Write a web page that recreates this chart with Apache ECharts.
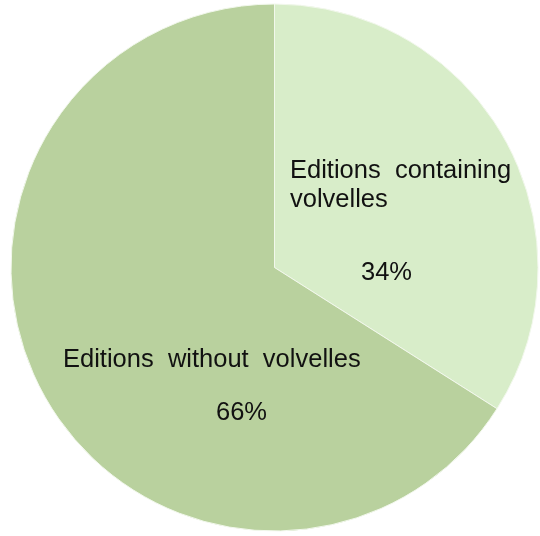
<!DOCTYPE html>
<html>
<head>
<meta charset="utf-8">
<script src="https://cdn.jsdelivr.net/npm/echarts@6/dist/echarts.min.js"></script>
<style>
  html, body { margin: 0; padding: 0; background: #ffffff; }
  #chart { width: 540px; height: 536px; }
</style>
</head>
<body>
<div id="chart"></div>
<script>
// Share of editions with and without volvelles
const categories = ['Editions containing volvelles', 'Editions without volvelles'];
const shares = [34, 66];
const sliceColors = ['#d8edc9', '#b9d19e'];

// Text of each slice label, split over lines (wide word spacing)
const labelLines = [
  ['Editions  containing', 'volvelles'],
  ['Editions  without  volvelles']
];
// Label anchor (top-left) and the indent of the percentage line
const labelAnchors = [[290, 156.5], [63, 345]];
const pctIndent = [71, 153];
const pctLineHeight = [116, 77];

const chart = echarts.init(document.getElementById('chart'), null, { renderer: 'canvas' });

const data = categories.map((name, i) => ({
  name: name,
  value: shares[i],
  itemStyle: { color: sliceColors[i] }
}));

const textStyle = { fontFamily: 'Liberation Sans', fontSize: 25.5, color: '#111111' };

chart.setOption({
  animation: false,
  backgroundColor: '#ffffff',
  series: [{
    type: 'pie',
    center: [274.5, 267.5],
    radius: [0, 263.5],
    startAngle: 90,
    clockwise: true,
    data: data,
    itemStyle: { borderColor: '#f2f8ec', borderWidth: 1 },
    labelLine: { show: false },
    label: {
      show: true,
      position: 'inside',
      formatter: function (p) {
        const lines = labelLines[p.dataIndex].map(t => '{n|' + t + '}');
        return lines.join('\n') + '\n{p' + p.dataIndex + '|' + Math.round(p.percent) + '%}';
      },
      rich: {
        n: Object.assign({ lineHeight: 29 }, textStyle),
        p0: Object.assign({ lineHeight: pctLineHeight[0], padding: [0, 0, 0, pctIndent[0]] }, textStyle),
        p1: Object.assign({ lineHeight: pctLineHeight[1], padding: [0, 0, 0, pctIndent[1]] }, textStyle)
      }
    },
    labelLayout: function (params) {
      const a = labelAnchors[params.dataIndex];
      return { x: a[0], y: a[1], align: 'left', verticalAlign: 'top' };
    }
  }]
});
</script>
</body>
</html>
